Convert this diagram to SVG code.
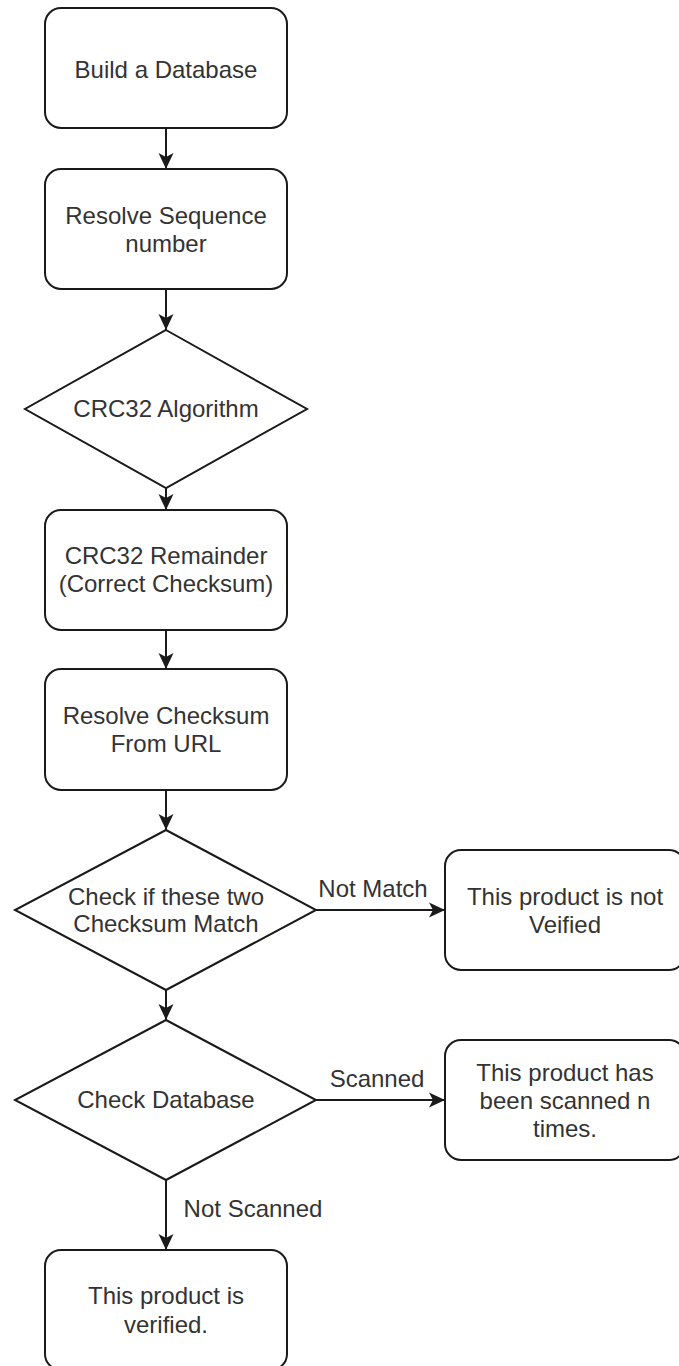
<svg xmlns="http://www.w3.org/2000/svg" width="679" height="1366" viewBox="0 0 679 1366">
  <style>
    .shape { fill: #ffffff; stroke: #1a1a1a; stroke-width: 2; }
    .edge { fill: none; stroke: #1a1a1a; stroke-width: 2; }
    text { font-family: "Liberation Sans", Arial, sans-serif; font-size: 24px; fill: #333333; text-anchor: middle; }
  </style>
  <defs>
    <marker id="arrow" markerUnits="userSpaceOnUse" markerWidth="18" markerHeight="18" viewBox="-16 -8 18 16" refX="0" refY="0" orient="auto">
      <path d="M0,0 L-16,-7.5 L-12,0 L-16,7.5 Z" fill="#1a1a1a"/>
    </marker>
  </defs>

  <rect width="679" height="1366" fill="#ffffff"/>

  <!-- connectors and their labels -->
  <g id="edges">
    <line class="edge" x1="166" y1="128" x2="166" y2="169" marker-end="url(#arrow)"/>
    <line class="edge" x1="166" y1="289" x2="166" y2="330" marker-end="url(#arrow)"/>
    <line class="edge" x1="166" y1="488" x2="166" y2="510" marker-end="url(#arrow)"/>
    <line class="edge" x1="166" y1="630" x2="166" y2="669" marker-end="url(#arrow)"/>
    <line class="edge" x1="166" y1="790" x2="166" y2="830" marker-end="url(#arrow)"/>
    <line class="edge" x1="166" y1="990" x2="166" y2="1020" marker-end="url(#arrow)"/>
    <line class="edge" x1="316" y1="910" x2="445" y2="910" marker-end="url(#arrow)"/>
    <line class="edge" x1="316" y1="1100" x2="445" y2="1100" marker-end="url(#arrow)"/>
    <line class="edge" x1="166" y1="1180" x2="166" y2="1250" marker-end="url(#arrow)"/>
    <text x="373" y="897">Not Match</text>
    <text x="377" y="1087">Scanned</text>
    <text x="253" y="1217">Not Scanned</text>
  </g>

  <g id="build-db">
    <rect class="shape" x="45" y="8" width="242" height="120" rx="16"/>
    <text x="166" y="78">Build a Database</text>
  </g>

  <g id="resolve-seq">
    <rect class="shape" x="45" y="169" width="242" height="120" rx="16"/>
    <text x="166" y="224">Resolve Sequence</text>
    <text x="166" y="252">number</text>
  </g>

  <g id="crc-algo">
    <polygon class="shape" points="166,330 307,409 166,488 25,409"/>
    <text x="166" y="417">CRC32 Algorithm</text>
  </g>

  <g id="crc-remainder">
    <rect class="shape" x="45" y="510" width="242" height="120" rx="16"/>
    <text x="166" y="564">CRC32 Remainder</text>
    <text x="166" y="592">(Correct Checksum)</text>
  </g>

  <g id="resolve-checksum">
    <rect class="shape" x="45" y="669" width="242" height="121" rx="16"/>
    <text x="166" y="724">Resolve Checksum</text>
    <text x="166" y="752">From URL</text>
  </g>

  <g id="check-match">
    <polygon class="shape" points="166,830 316,910 166,990 15,910"/>
    <text x="166" y="905">Check if these two</text>
    <text x="166" y="932">Checksum Match</text>
  </g>

  <g id="not-verified">
    <rect class="shape" x="445" y="850" width="240" height="120" rx="16"/>
    <text x="565" y="905">This product is not</text>
    <text x="565" y="933">Veified</text>
  </g>

  <g id="check-db">
    <polygon class="shape" points="166,1020 316,1100 166,1180 15,1100"/>
    <text x="166" y="1108">Check Database</text>
  </g>

  <g id="scanned-n">
    <rect class="shape" x="445" y="1040" width="240" height="120" rx="16"/>
    <text x="565" y="1081">This product has</text>
    <text x="565" y="1109">been scanned n</text>
    <text x="565" y="1137">times.</text>
  </g>

  <g id="verified">
    <rect class="shape" x="45" y="1250" width="242" height="120" rx="16"/>
    <text x="166" y="1304">This product is</text>
    <text x="166" y="1333">verified.</text>
  </g>
</svg>
